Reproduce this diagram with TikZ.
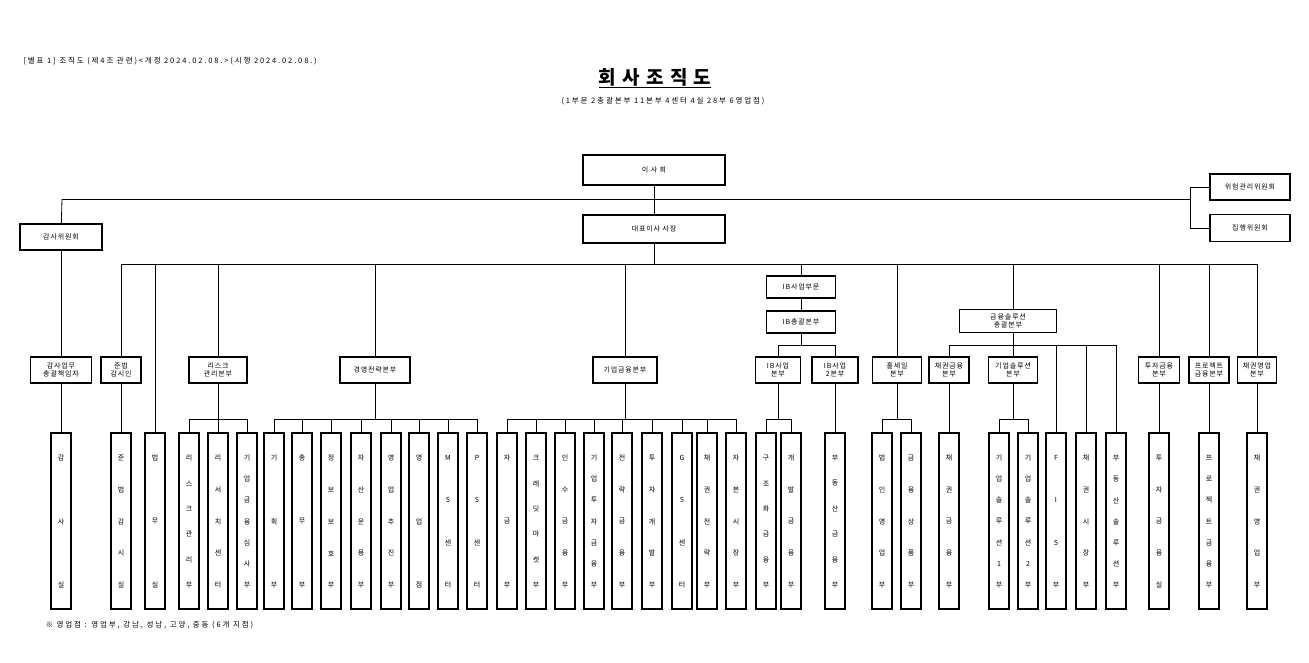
\documentclass[tikz,border=0pt]{standalone}
\usepackage{fontspec}
\newfontfamily\cjk{Noto Sans CJK KR}
\newfontfamily\cjks[LetterSpace=25]{Noto Sans CJK KR}
\newfontfamily\cjkb[LetterSpace=12]{Noto Sans CJK KR}
\begin{document}
\begin{tikzpicture}[x=1pt,y=-1pt,
 box/.style={draw,line width=1.6pt,inner sep=0pt,font=\cjkb\fontsize{7}{8.5}\selectfont,align=center},
 leafbox/.style={draw,line width=1.6pt,minimum width=20pt,minimum height=176pt,inner sep=0pt},
 ch/.style={font=\cjk\fontsize{7}{8}\selectfont,inner sep=0pt},
 ln/.style={line width=0.8pt}]
\useasboundingbox[fill=white] (0,0) rectangle (1309,663);
\newcommand\leaf[3]{%
 \node[leafbox] (#1) at (#2,521) {};
 \foreach \lc [count=\li] in {#3} {\xdef\nch{\li}}
 \foreach \lc [count=\li] in {#3} {\node[ch] at (#2,{458+(\li-1)*127/(\nch-1)}) {\lc};}
}
% header
\node[anchor=west,font=\cjks\fontsize{7.5}{8}\selectfont] (hdr) at (20,61) {[별표 1] 조직도 (제4조 관련)<개정 2024.02.08.>(시행 2024.02.08.)};
\node[font=\cjk\bfseries\fontsize{19}{22}\selectfont] (title) at (655,78) {\underline{회\,\,사\,\,조\,\,직\,\,도}};
\node[font=\cjks\fontsize{7.5}{8}\selectfont] (sub) at (663,101) {(1부문 2총괄본부 11본부 4센터 4실 28부 6영업점)};
\node[anchor=west,font=\cjks\fontsize{7.5}{8}\selectfont] (foot) at (42,625) {※ 영업점 : 영업부, 강남, 성남, 고양, 중동 (6개 지점)};
% top boxes
\node[box,minimum width=142pt,minimum height=30pt] (board) at (654,170) {이 사 회};
\node[box,minimum width=142pt,minimum height=28pt] (ceo) at (654,229) {대표이사 사장};
\node[box,minimum width=82pt,minimum height=26pt] (audc) at (61,237) {감사위원회};
\node[box,minimum width=80pt,minimum height=26pt] (riskc) at (1250,187) {위험관리위원회};
\node[box,minimum width=80pt,minimum height=27pt] (execc) at (1250,228) {집행위원회};
\coordinate (hl) at (62,199); \coordinate (hr) at (1190,199);
\draw[ln] (board) -- (ceo);
\draw[ln] (hl) -- (hr);
\draw[ln] (hl) -- (audc);
\draw[ln] (1190,187) -- (1190,228);
\draw[ln] (1190,187) -- (riskc); \draw[ln] (1190,228) -- (execc);
% second level
\node[box,minimum width=61pt,minimum height=26pt] (audm) at (61,370) {감사업무\\총괄책임자};
\node[box,minimum width=40pt,minimum height=26pt] (comp) at (121,370) {준법\\감시인};
\node[box,minimum width=58pt,minimum height=26pt] (riskh) at (218,370) {리스크\\관리본부};
\node[box,minimum width=70pt,minimum height=26pt] (strat) at (375,370) {경영전략본부};
\node[box,minimum width=64pt,minimum height=26pt] (corp) at (625,370) {기업금융본부};
\node[box,minimum width=69pt,minimum height=22pt] (ibdiv) at (801,287) {IB사업부문};
\node[box,minimum width=69pt,minimum height=22pt] (ibgen) at (801,322) {IB총괄본부};
\node[box,minimum width=45pt,minimum height=26pt] (ib1) at (778,370) {IB사업\\본부};
\node[box,minimum width=46pt,minimum height=26pt] (ib2) at (835,370) {IB사업\\2본부};
\node[box,minimum width=49pt,minimum height=26pt] (whole) at (897,370) {홀세일\\본부};
\node[box,minimum width=97pt,minimum height=23pt] (fsol) at (1008,321) {금융솔루션\\총괄본부};
\node[box,minimum width=40pt,minimum height=26pt] (bondf) at (949,370) {채권금융\\본부};
\node[box,minimum width=49pt,minimum height=26pt] (csol) at (1013,370) {기업솔루션\\본부};
\node[box,minimum width=41pt,minimum height=26pt] (invf) at (1159,370) {투자금융\\본부};
\node[box,minimum width=40pt,minimum height=26pt] (pf) at (1209,370) {프로젝트\\금융본부};
\node[box,minimum width=39pt,minimum height=26pt] (bonds) at (1257,370) {채권영업\\본부};
% leaves
\leaf{l1}{61}{감,사,실}
\leaf{l2}{121}{준,법,감,시,실}
\leaf{l3}{155}{법,무,실}
\leaf{l4}{189}{리,스,크,관,리,부}
\leaf{l5}{218}{리,서,치,센,터}
\leaf{l6}{247}{기,업,금,융,심,사,부}
\leaf{l7}{274}{기,획,부}
\leaf{l8}{302}{총,무,부}
\leaf{l9}{331}{정,보,보,호,부}
\leaf{l10}{361}{자,산,운,용,부}
\leaf{l11}{391}{영,업,추,진,부}
\leaf{l12}{419}{영,업,점}
\leaf{l13}{448}{M,S,센,터}
\leaf{l14}{477}{P,S,센,터}
\leaf{l15}{507}{자,금,부}
\leaf{l16}{536}{크,레,딧,마,켓,부}
\leaf{l17}{565}{인,수,금,융,부}
\leaf{l18}{594}{기,업,투,자,금,융,부}
\leaf{l19}{622}{전,략,금,융,부}
\leaf{l20}{652}{투,자,개,발,부}
\leaf{l21}{682}{G,S,센,터}
\leaf{l22}{707}{채,권,전,략,부}
\leaf{l23}{736}{자,본,시,장,부}
\leaf{l24}{766}{구,조,화,금,융,부}
\leaf{l25}{791}{개,발,금,융,부}
\leaf{l26}{835}{부,동,산,금,융,부}
\leaf{l27}{882}{법,인,영,업,부}
\leaf{l28}{911}{금,융,상,품,부}
\leaf{l29}{949}{채,권,금,융,부}
\leaf{l30}{999}{기,업,솔,루,션,1,부}
\leaf{l31}{1028}{기,업,솔,루,션,2,부}
\leaf{l32}{1056}{F,I,S,부}
\leaf{l33}{1086}{채,권,시,장,부}
\leaf{l34}{1116}{부,동,산,솔,루,션,부}
\leaf{l35}{1159}{투,자,금,융,실}
\leaf{l36}{1209}{프,로,젝,트,금,융,부}
\leaf{l37}{1257}{채,권,영,업,부}
% CEO bus
\coordinate (bus) at (654,264);
\draw[ln] (ceo) -- (bus);
\draw[ln] (121,264) -- (1257,264);
\draw[ln] (121,264) -- (comp);
\draw[ln] (155,264) -- (l3);
\draw[ln] (218,264) -- (riskh);
\draw[ln] (375,264) -- (strat);
\draw[ln] (625,264) -- (corp);
\draw[ln] (801,264) -- (ibdiv);
\draw[ln] (897,264) -- (whole);
\draw[ln] (1013,264) -- (1013,309.5);
\draw[ln] (1159,264) -- (invf);
\draw[ln] (1209,264) -- (pf);
\draw[ln] (1257,264) -- (bonds);
\draw[ln] (audc) -- (audm);
\draw[ln] (audm) -- (l1);
\draw[ln] (comp) -- (l2);
\draw[ln] (ibdiv) -- (ibgen);
% bars
\draw[ln] (riskh) -- (218,419); \draw[ln] (189,419) -- (247,419); \draw[ln] (247,419) -- (l6); \draw[ln] (218,419) -- (l5); \draw[ln] (189,419) -- (l4);
\draw[ln] (strat) -- (375,419); \draw[ln] (274,419) -- (477,419);
\foreach \n/\x in {l7/274,l8/302,l9/331,l10/361,l11/391,l12/419,l13/448,l14/477} {\draw[ln] (\x,419) -- (\n);}
\draw[ln] (corp) -- (625,419); \draw[ln] (507,419) -- (736,419);
\foreach \n/\x in {l15/507,l16/536,l17/565,l18/594,l19/622,l20/652,l21/682,l22/707,l23/736} {\draw[ln] (\x,419) -- (\n);}
\draw[ln] (ibgen) -- (801,345); \draw[ln] (778,345) -- (835,345);
\draw[ln] (778,345) -- (ib1); \draw[ln] (835,345) -- (ib2);
\draw[ln] (ib1) -- (778,419); \draw[ln] (766,419) -- (791,419);
\draw[ln] (766,419) -- (l24); \draw[ln] (791,419) -- (l25);
\draw[ln] (ib2) -- (l26);
\draw[ln] (whole) -- (897,419); \draw[ln] (882,419) -- (911,419);
\draw[ln] (882,419) -- (l27); \draw[ln] (911,419) -- (l28);
\draw[ln] (1013,332.5) -- (1013,345); \draw[ln] (949,345) -- (1116,345);
\draw[ln] (949,345) -- (bondf); \draw[ln] (1013,345) -- (csol);
\draw[ln] (1056,345) -- (l32); \draw[ln] (1086,345) -- (l33); \draw[ln] (1116,345) -- (l34);
\draw[ln] (bondf) -- (l29);
\draw[ln] (csol) -- (1013,419); \draw[ln] (999,419) -- (1028,419);
\draw[ln] (999,419) -- (l30); \draw[ln] (1028,419) -- (l31);
\draw[ln] (invf) -- (l35); \draw[ln] (pf) -- (l36); \draw[ln] (bonds) -- (l37);
\end{tikzpicture}
\end{document}
